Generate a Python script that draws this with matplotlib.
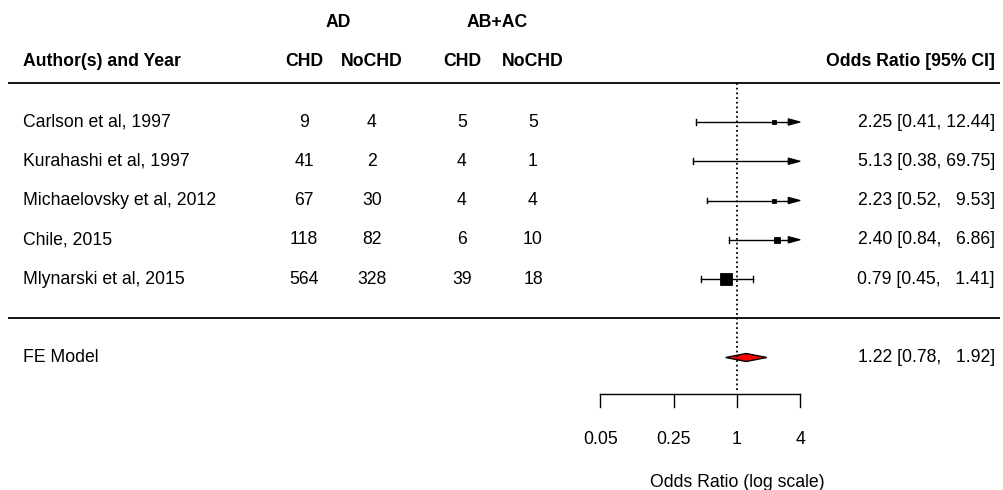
import numpy as np
import matplotlib
matplotlib.use("Agg")
import matplotlib.pyplot as plt
from matplotlib.patches import Polygon

plt.rcParams['font.family'] = ['Liberation Sans', 'DejaVu Sans']

# ---------------- data ----------------
authors = ["Carlson et al, 1997", "Kurahashi et al, 1997", "Michaelovsky et al, 2012",
           "Chile, 2015", "Mlynarski et al, 2015"]
ad_chd = [9, 41, 67, 118, 564]
ad_nochd = [4, 2, 30, 82, 328]
abac_chd = [5, 4, 4, 6, 39]
abac_nochd = [5, 1, 4, 10, 18]
or_est = [2.25, 5.13, 2.23, 2.40, 0.79]
or_lb = [0.41, 0.38, 0.52, 0.84, 0.45]
or_ub = [12.44, 69.75, 9.53, 6.86, 1.41]
fe_label = "FE Model"
fe_est, fe_lb, fe_ub = 1.22, 0.78, 1.92
xticks = [0.05, 0.25, 1, 4]
xtick_labels = ["0.05", "0.25", "1", "4"]
group_headers = ["AD", "AB+AC"]
col_headers = ["CHD", "NoCHD", "CHD", "NoCHD"]

# ---------------- layout helpers ----------------
W, H = 1004, 490
X0, SX = 737.0, 45.6          # pixel of OR=1, pixels per log unit
Y1, SY = 279.0, 39.25         # pixel of row 1, pixels per row


def px(p):
    return (p - X0) / SX


def py(p):
    return 1 + (Y1 - p) / SY


fig = plt.figure(figsize=(W / 100, H / 100), dpi=100)
ax = fig.add_axes([0, 0, 1, 1])
ax.set_xlim(px(0), px(W))
ax.set_ylim(py(H), py(0))
ax.axis('off')

FS = 12.7
k = len(authors)
rows = np.arange(k, 0, -1)
fe_row = -1
LW = 1.0

amin, amax = np.log(min(xticks)), np.log(max(xticks))

# horizontal rules
for yy in (k + 1, 0):
    ax.plot([px(8), px(1000)], [yy, yy], color='black', lw=1.3, solid_capstyle='butt')

# reference line
ax.plot([0, 0], [py(390), k + 1], color='black', lw=1.3, linestyle=(0, (1, 1.6)))

# study weights -> square sizes
lo = np.log(or_lb)
hi = np.log(or_ub)
est = np.log(or_est)
vi = ((hi - lo) / (2 * 1.96)) ** 2
wi = 1 / vi
ps = wi / wi.sum()
ps = (ps - ps.min()) / (ps.max() - ps.min()) + 0.5

bar_h = 2.8 / SY
arr_len = 12 / SX
arr_h = 3.2 / SY

for i in range(k):
    y = rows[i]
    l, h, e = lo[i], hi[i], est[i]
    ax.plot([l, l], [y - bar_h, y + bar_h], color='black', lw=LW)
    if h > amax:
        ax.plot([l, amax - arr_len], [y, y], color='black', lw=LW)
        ax.add_patch(Polygon([(amax - arr_len, y - arr_h), (amax, y), (amax - arr_len, y + arr_h)],
                             closed=True, facecolor='black', edgecolor='black', lw=0.8))
    else:
        ax.plot([l, h], [y, y], color='black', lw=LW)
        ax.plot([h, h], [y - bar_h, y + bar_h], color='black', lw=LW)
    if amin <= e <= amax:
        ax.plot([e], [y], marker='s', color='black', markersize=ps[i] * 5.5,
                mec='black', mew=0.6)

# FE diamond
fl, fe, fh = np.log(fe_lb), np.log(fe_est), np.log(fe_ub)
dh = 4 / SY
ax.add_patch(Polygon([(fl, fe_row), (fe, fe_row + dh), (fh, fe_row), (fe, fe_row - dh)],
                     closed=True, facecolor='red', edgecolor='black', lw=1.0))

# x axis
ya = py(394)
yt = py(407)
ax.plot([np.log(xticks[0]), np.log(xticks[-1])], [ya, ya], color='black', lw=LW)
for t, lab in zip(xticks, xtick_labels):
    ax.plot([np.log(t), np.log(t)], [ya, yt], color='black', lw=LW)
    ax.text(np.log(t), py(439), lab, ha='center', va='center', fontsize=FS)
ax.text(0, py(482), "Odds Ratio (log scale)", ha='center', va='center', fontsize=FS)

# headers
col_x = [304, 372, 462, 533]
ax.text(px(23), py(61), "Author(s) and Year", ha='left', va='center', fontsize=FS, fontweight='bold')
ax.text(px(995), py(61), "Odds Ratio [95% CI]", ha='right', va='center', fontsize=FS, fontweight='bold')
for cx, lab in zip(col_x, col_headers):
    ax.text(px(cx), py(61), lab, ha='center', va='center', fontsize=FS, fontweight='bold')
for (a, b), lab in zip([(col_x[0], col_x[1]), (col_x[2], col_x[3])], group_headers):
    ax.text(px((a + b) / 2), py(22), lab, ha='center', va='center', fontsize=FS, fontweight='bold')


def fmt(e, l, u):
    us = f"{u:.2f}"
    pad = " " * (2 * (5 - len(us)))
    return f"{e:.2f} [{l:.2f}, {pad}{us}]"


# study rows
for i in range(k):
    y = rows[i]
    ax.text(px(23), y, authors[i], ha='left', va='center', fontsize=FS)
    for cx, arr in zip(col_x, [ad_chd, ad_nochd, abac_chd, abac_nochd]):
        ax.text(px(cx), y, str(arr[i]), ha='center', va='center', fontsize=FS)
    ax.text(px(995), y, fmt(or_est[i], or_lb[i], or_ub[i]), ha='right', va='center', fontsize=FS)

ax.text(px(23), fe_row, fe_label, ha='left', va='center', fontsize=FS)
ax.text(px(995), fe_row, fmt(fe_est, fe_lb, fe_ub), ha='right', va='center', fontsize=FS)

fig.savefig("out.png", dpi=100)
